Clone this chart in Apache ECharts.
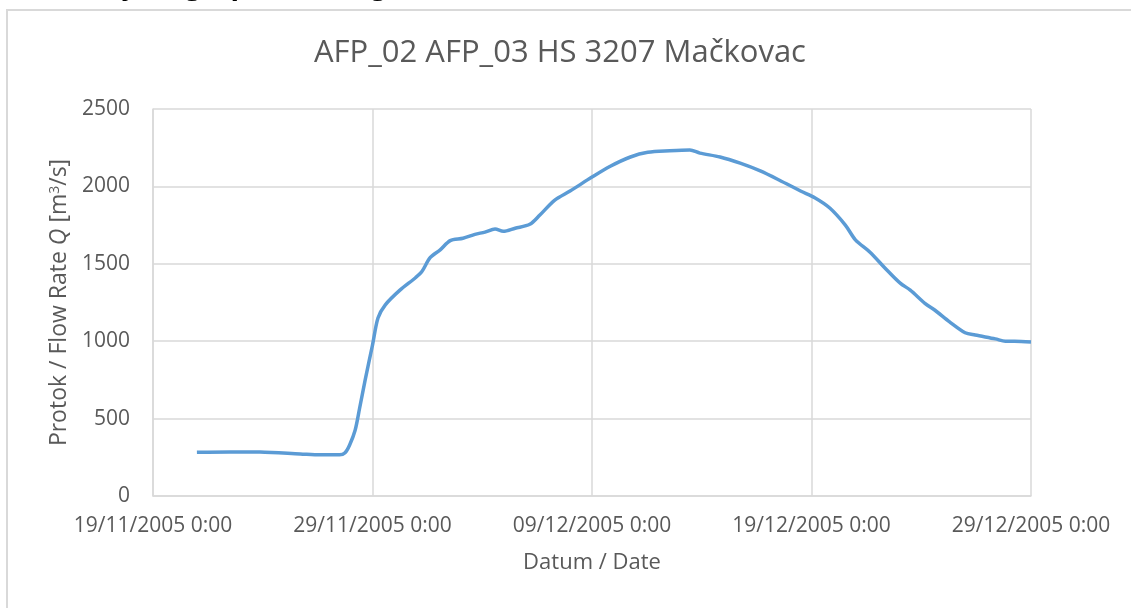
<!DOCTYPE html>
<html>
<head>
<meta charset="utf-8">
<script src="https://cdn.jsdelivr.net/npm/echarts@6/dist/echarts.min.js"></script>
<style>
    html, body { margin: 0; padding: 0; background: #fff; }
    #hydrograph { width: 1131px; height: 608px; }
</style>
</head>
<body>
<div id="hydrograph"></div>
<script>
// Data
var dates = [
    '2005-11-21 00:00', '2005-11-22 12:00', '2005-11-23 21:00', '2005-11-25 17:00', '2005-11-26 15:00',
    '2005-11-27 12:00', '2005-11-27 18:00', '2005-11-27 23:00', '2005-11-28 05:00', '2005-11-28 10:00',
    '2005-11-28 16:00', '2005-11-29 00:00', '2005-11-29 06:00', '2005-11-29 14:00', '2005-11-30 06:00',
    '2005-11-30 23:00', '2005-12-01 06:00', '2005-12-01 15:00', '2005-12-02 02:00', '2005-12-02 13:00',
    '2005-12-03 03:00', '2005-12-03 16:00', '2005-12-04 03:00', '2005-12-04 14:00', '2005-12-04 23:00',
    '2005-12-05 12:00', '2005-12-06 04:00', '2005-12-06 15:00', '2005-12-07 07:00', '2005-12-08 00:00',
    '2005-12-09 00:00', '2005-12-09 20:00', '2005-12-10 18:00', '2005-12-11 13:00', '2005-12-12 13:00',
    '2005-12-13 11:00', '2005-12-13 22:00', '2005-12-14 20:00', '2005-12-15 18:00', '2005-12-16 16:00',
    '2005-12-17 13:00', '2005-12-18 12:00', '2005-12-19 04:00', '2005-12-19 20:00', '2005-12-20 13:00',
    '2005-12-21 00:00', '2005-12-21 16:00', '2005-12-22 08:00', '2005-12-23 01:00', '2005-12-23 12:00',
    '2005-12-24 04:00', '2005-12-24 15:00', '2005-12-25 07:00', '2005-12-26 00:00', '2005-12-26 11:00',
    '2005-12-27 09:00', '2005-12-27 20:00', '2005-12-28 06:00', '2005-12-29 00:00'
];
var flow = [
    282, 285, 284, 272, 266,
    266, 280, 330, 425, 570,
    750, 975, 1150, 1235, 1330,
    1410, 1450, 1540, 1590, 1650,
    1665, 1690, 1705, 1725, 1710,
    1730, 1755, 1815, 1910, 1970,
    2060, 2130, 2190, 2220, 2230,
    2235, 2215, 2190, 2150, 2100,
    2040, 1970, 1925, 1860, 1750,
    1655, 1575, 1475, 1375, 1330,
    1245, 1200, 1125, 1055, 1040,
    1015, 1000, 1000, 995
];
var yTicks = [0, 500, 1000, 1500, 2000, 2500];
var axisStart = '2005-11-19 00:00';
var axisEnd = '2005-12-29 00:00';

var DAY = 86400000;

function toMs(s) {
    var p = s.split(/[- :]/);
    return Date.UTC(+p[0], +p[1] - 1, +p[2], +p[3], +p[4]);
}
function pad(n) { return n < 10 ? '0' + n : '' + n; }
function fmtDate(ms) {
    var d = new Date(ms);
    return pad(d.getUTCDate()) + '/' + pad(d.getUTCMonth() + 1) + '/' + d.getUTCFullYear() + ' ' + d.getUTCHours() + ':' + pad(d.getUTCMinutes());
}

var series_data = dates.map(function (d, i) { return [toMs(d), flow[i]]; });

var chart_element = document.getElementById('hydrograph');
var chart = echarts.init(chart_element);

var font = '"Open Sans", sans-serif';

chart.setOption({
    animation: false,
    textStyle: { fontFamily: font },
    title: {
        text: 'AFP_02 AFP_03 HS 3207 Mačkovac',
        left: 309,
        top: 33,
        textStyle: { fontSize: 31, fontWeight: 'normal', color: '#595959', fontFamily: font }
    },
    graphic: [
        {
            type: 'rect',
            shape: { x: 7, y: 10, width: 1200, height: 700 },
            style: { fill: 'none', stroke: '#d9d9d9', lineWidth: 2 },
            silent: true
        },
        {
            type: 'text',
            left: 100,
            top: -28,
            style: {
                text: 'Hydrograph / Hidrogram (AFP_03)',
                fontSize: 28,
                fontWeight: 'bold',
                fontFamily: font,
                fill: '#000'
            },
            silent: true
        }
    ],
    grid: { left: 153, right: 100, top: 109, bottom: 112 },
    xAxis: {
        type: 'value',
        min: toMs(axisStart),
        max: toMs(axisEnd),
        interval: 10 * DAY,
        name: 'Datum / Date',
        nameLocation: 'middle',
        nameGap: 56,
        nameTextStyle: { fontSize: 22, color: '#595959' },
        axisLine: { show: true, lineStyle: { color: '#d9d9d9', width: 1.5 } },
        axisTick: { show: false },
        axisLabel: {
            margin: 20,
            fontSize: 21,
            color: '#595959',
            formatter: function (v) { return fmtDate(v); }
        },
        splitLine: { show: true, lineStyle: { color: '#d9d9d9', width: 1.5 } }
    },
    yAxis: {
        type: 'value',
        min: yTicks[0],
        max: yTicks[yTicks.length - 1],
        interval: yTicks[1] - yTicks[0],
        name: '{n|Protok / Flow Rate }{q|Q}{n| [m}{s|3}{n|/s]}',
        nameLocation: 'middle',
        nameGap: 72,
        nameTextStyle: {
            rich: {
                n: { fontSize: 23, color: '#595959', fontFamily: font },
                q: { fontSize: 23, color: '#595959', fontStyle: 'italic', fontFamily: font },
                s: { fontSize: 14, color: '#595959', fontFamily: font, verticalAlign: 'top', padding: [0, 0, 10, 0] }
            }
        },
        axisLine: { show: true, lineStyle: { color: '#d9d9d9', width: 1.5 } },
        axisTick: { show: false },
        axisLabel: {
            margin: 23,
            fontSize: 21,
            color: '#595959',
            formatter: function (v) { return String(v); }
        },
        splitLine: { show: true, lineStyle: { color: '#d9d9d9', width: 1.5 } }
    },
    series: [{
        name: 'Q',
        type: 'line',
        data: series_data,
        smooth: 0.3,
        showSymbol: false,
        lineStyle: { color: '#5b9bd5', width: 3.5 },
        itemStyle: { color: '#5b9bd5' }
    }]
});
</script>
</body>
</html>
